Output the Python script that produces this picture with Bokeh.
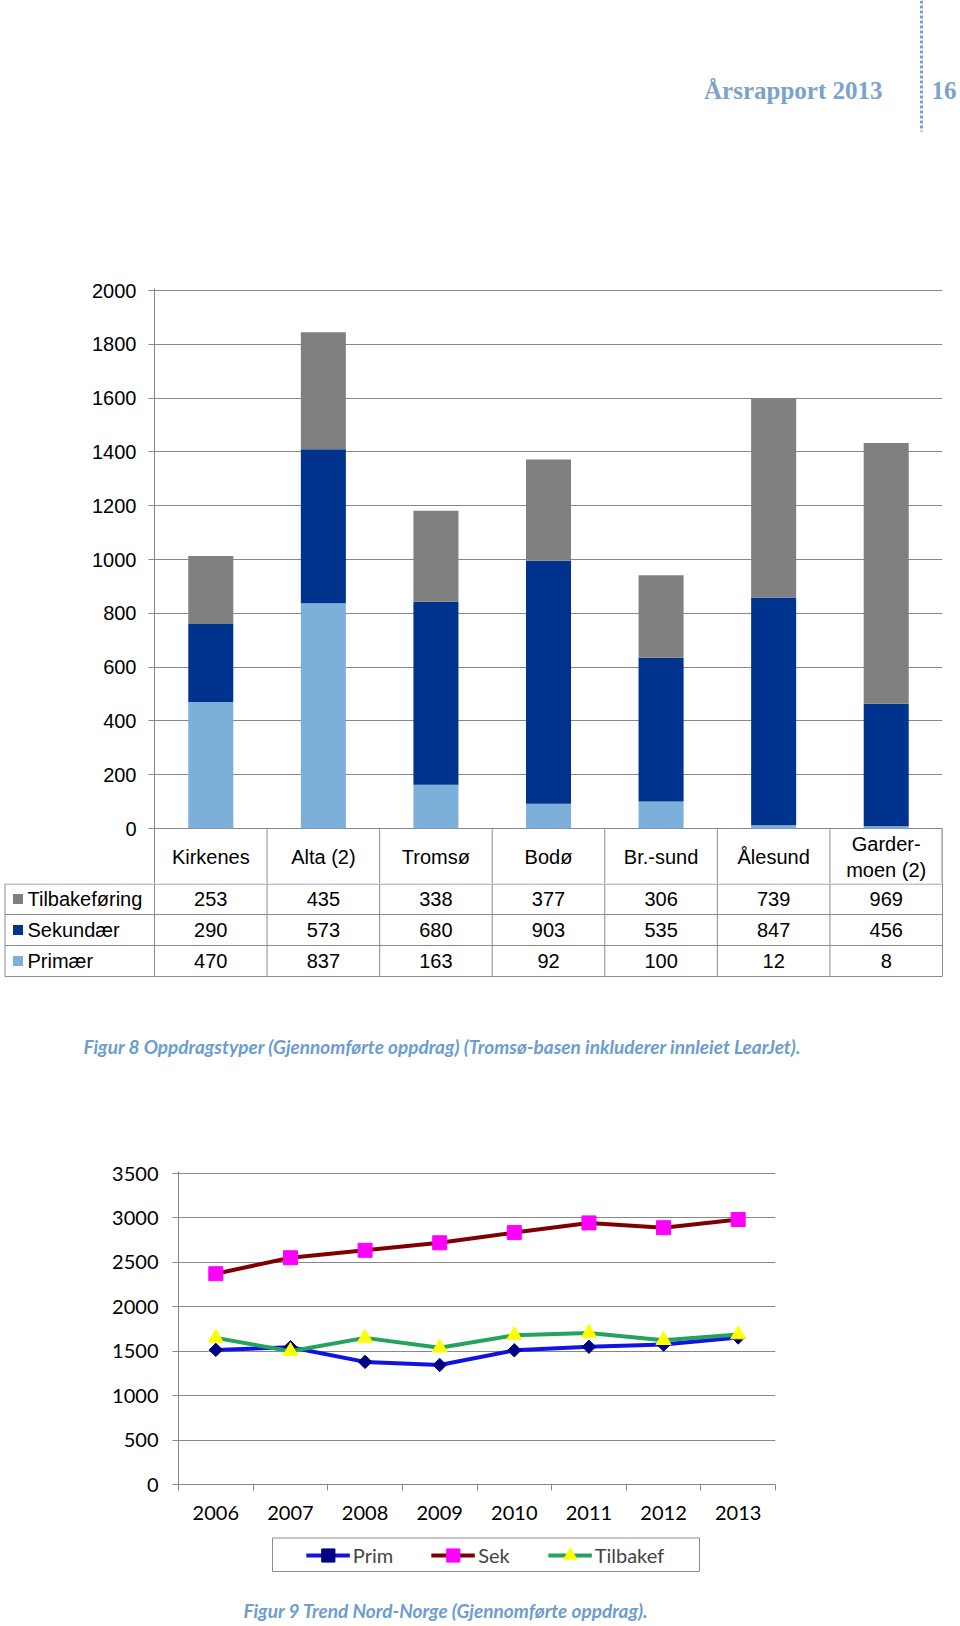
from bokeh.plotting import figure
from bokeh.models import Range1d, FactorRange, FixedTicker, Legend, LegendItem, ColumnDataSource
from bokeh.core.properties import value
from bokeh.embed import file_html
from bokeh.resources import INLINE

# ------------------------------------------------------------------ data
bases = ["Kirkenes", "Alta (2)", "Tromsø", "Bodø", "Br.-sund", "Ålesund", "Garder-\nmoen (2)"]
series_names = ["Tilbakeføring", "Sekundær", "Primær"]
tilbakeforing = [253, 435, 338, 377, 306, 739, 969]
sekundaer = [290, 573, 680, 903, 535, 847, 456]
primaer = [470, 837, 163, 92, 100, 12, 8]
bar_y_ticks = [0, 200, 400, 600, 800, 1000, 1200, 1400, 1600, 1800, 2000]

years = [2006, 2007, 2008, 2009, 2010, 2011, 2012, 2013]
prim = [1515, 1545, 1380, 1345, 1510, 1550, 1575, 1655]
sek = [2372, 2552, 2636, 2720, 2835, 2944, 2890, 2982]
tilbakef = [1650, 1500, 1650, 1540, 1680, 1706, 1624, 1688]
line_y_ticks = [0, 500, 1000, 1500, 2000, 2500, 3000, 3500]
line_names = ["Prim", "Sek", "Tilbakef"]

header_text = "Årsrapport 2013"
page_no = "16"
caption1 = "Figur 8 Oppdragstyper (Gjennomførte oppdrag) (Tromsø-basen inkluderer innleiet LearJet)."
caption2 = "Figur 9 Trend Nord-Norge (Gjennomførte oppdrag)."

# ------------------------------------------------------------------ style
W = 960
GRID = "#878787"
TAB = "#8c8c8c"
HEAD_C = "#7aa3cb"
CAP_C = "#6d9dcc"
C_TILB = "#808080"
C_SEK = "#00338d"
C_PRIM = "#7cb0da"
ARIAL = value("Liberation Sans")
CAL = value("Lato")
line_styles = [
    dict(line_color="#1212e6", marker="square", angle=0.785398, size=9.5, fill="#000080"),
    dict(line_color="#7f0000", marker="square", angle=0.0, size=14, fill="#ff00ff"),
    dict(line_color="#24a35c", marker="triangle", angle=0.0, size=15, fill="#ffff00"),
]


def blank(y_top, y_bottom, x_left=0, border_left=0):
    p = figure(width=W, height=y_bottom - y_top, x_range=Range1d(x_left, W), y_range=Range1d(y_bottom, y_top),
               toolbar_location=None, output_backend="svg", min_border=0, min_border_left=border_left,
               x_axis_location=None, y_axis_location=None)
    p.grid.grid_line_color = None
    p.outline_line_color = None
    p.background_fill_color = "white"
    p.border_fill_color = "white"
    return p


def draw_series(p, xs, ys, st):
    lr = p.line(xs, ys, line_color=st["line_color"], line_width=4)
    sr = p.scatter(xs, ys, marker=st["marker"], angle=st["angle"], size=st["size"],
                   fill_color=st["fill"], line_color=st["fill"])
    return [lr, sr]


# ------------------------------------------------------------------ header
head = blank(0, 270)
head.text(x=[882], y=[90], text=[header_text], text_font=value("Liberation Serif"), text_font_style="bold",
          text_font_size="25px", text_color=HEAD_C, text_align="right", text_baseline="alphabetic")
head.text(x=[956], y=[90], text=[page_no], text_font=value("Liberation Serif"), text_font_style="bold",
          text_font_size="25px", text_color=HEAD_C, text_align="right", text_baseline="alphabetic")
head.segment(x0=[921], y0=[0], x1=[921], y1=[131], line_color=HEAD_C, line_width=3, line_dash="3 2")

# ------------------------------------------------------------------ bar chart (+ table header row)
B_TOP, FR_TOP, Y2000, Y0, FR_BOT = 270, 288, 290, 828, 883
X0, X1 = 154, 942
ppu = (Y0 - Y2000) / bar_y_ticks[-1]
bar = figure(width=W, height=FR_BOT - B_TOP,
             x_range=FactorRange(*bases, range_padding=0),
             y_range=Range1d(-(FR_BOT - Y0) / ppu, bar_y_ticks[-1] + (Y2000 - FR_TOP) / ppu),
             toolbar_location=None, output_backend="svg",
             min_border_top=FR_TOP - B_TOP, min_border_bottom=0, min_border_left=X0, min_border_right=W - X1,
             x_axis_location=None)
bar.outline_line_color = None
bar.background_fill_color = "white"
bar.xgrid.grid_line_color = None
bar.ygrid.grid_line_color = GRID
bar.yaxis.ticker = FixedTicker(ticks=bar_y_ticks)
bar.yaxis.axis_line_color = GRID
bar.yaxis.major_tick_line_color = GRID
bar.yaxis.major_tick_out = 6
bar.yaxis.major_tick_in = 0
bar.yaxis.minor_tick_line_color = None
bar.yaxis.major_label_standoff = 12
bar.yaxis.major_label_text_font = "Liberation Sans"
bar.yaxis.major_label_text_font_size = "20px"
bar.yaxis.major_label_text_color = "black"

src = ColumnDataSource(dict(base=bases, prim=primaer, sek=sekundaer, tilb=tilbakeforing))
bar.vbar_stack(["prim", "sek", "tilb"], x="base", width=0.4, color=[C_PRIM, C_SEK, C_TILB],
               line_color=None, source=src)
# header-row cell borders and category names (below the zero line)
ystart = bar.y_range.start
bounds = list(range(1, len(bases) + 1))
bar.segment(x0=bounds, y0=[0] * len(bounds), x1=bounds, y1=[ystart] * len(bounds),
            line_color=TAB, line_width=1)
bar.segment(x0=[len(bases)], y0=[0], x1=[len(bases)], y1=[ystart], line_color=TAB, line_width=2)
bar.text(x=bases, y=[-(856.5 - Y0) / ppu] * len(bases), text=bases, text_font=ARIAL, text_font_size="20px",
         text_align="center", text_baseline="middle", text_color="black", text_line_height=1.2)

# ------------------------------------------------------------------ table body
T_TOP, T_BOT = FR_BOT, 1150
tab = blank(T_TOP, T_BOT)
CW = (X1 - X0) / len(bases)
col_x = [X0 + i * CW for i in range(len(bases) + 1)]
col_c = [X0 + (i + 0.5) * CW for i in range(len(bases))]
row_lines = [T_TOP + 0.5, 914, 945, 976]
row_c = [898.5, 929.5, 960.5]
LEFT = 4.5
tab.segment(x0=[LEFT] * 4, y0=row_lines, x1=[X1] * 4, y1=row_lines, line_color=TAB, line_width=1)
tab.segment(x0=col_x, y0=[T_TOP] * len(col_x), x1=col_x, y1=[976] * len(col_x), line_color=TAB, line_width=1)
tab.segment(x0=[LEFT], y0=[T_TOP], x1=[LEFT], y1=[976], line_color=TAB, line_width=1)
rows = [tilbakeforing, sekundaer, primaer]
row_cols = [C_TILB, C_SEK, C_PRIM]
for r, (name, vals, col) in enumerate(zip(series_names, rows, row_cols)):
    tab.rect(x=[17.5], y=[row_c[r]], width=10, height=10, fill_color=col, line_color=None)
    tab.text(x=[27], y=[row_c[r]], text=[name], text_font=ARIAL, text_font_size="20px",
             text_align="left", text_baseline="middle", text_color="black")
    tab.text(x=col_c, y=[row_c[r]] * len(vals), text=[str(v) for v in vals], text_font=ARIAL,
             text_font_size="20px", text_align="center", text_baseline="middle", text_color="black")
tab.text(x=[83], y=[1046], text=[caption1], text_font=CAL, text_font_style="bold italic",
         text_font_size="19px", text_color=CAP_C, text_align="left", text_baseline="middle")

# ------------------------------------------------------------------ line chart
L_TOP, LT, L3500, L0, L_BOT = 1150, 1171, 1173, 1484, 1535
LX0, LX1 = 178, 775
lppu = (L0 - L3500) / line_y_ticks[-1]
line = figure(width=W, height=L_BOT - L_TOP,
              x_range=Range1d(years[0] - 0.5, years[-1] + 0.5),
              y_range=Range1d(0, line_y_ticks[-1] + (L3500 - LT) / lppu),
              toolbar_location=None, output_backend="svg",
              min_border_top=LT - L_TOP, min_border_bottom=L_BOT - L0,
              min_border_left=LX0, min_border_right=W - LX1)
line.outline_line_color = None
line.background_fill_color = "white"
line.xgrid.grid_line_color = None
line.ygrid.grid_line_color = GRID
line.yaxis.ticker = FixedTicker(ticks=line_y_ticks)
line.xaxis.ticker = FixedTicker(ticks=years, minor_ticks=[y - 0.5 for y in years] + [years[-1] + 0.5])
for ax in (line.xaxis, line.yaxis):
    ax.axis_line_color = GRID
    ax.major_label_text_font = "Lato"
    ax.major_label_text_font_size = "20px"
    ax.major_label_text_color = "black"
line.yaxis.major_tick_line_color = GRID
line.yaxis.major_tick_out = 6
line.yaxis.major_tick_in = 0
line.yaxis.minor_tick_line_color = None
line.yaxis.major_label_standoff = 14
line.xaxis.major_tick_line_color = None
line.xaxis.minor_tick_line_color = GRID
line.xaxis.minor_tick_out = 6
line.xaxis.minor_tick_in = 0
line.xaxis.major_label_standoff = 15

for ys, st in zip([prim, sek, tilbakef], line_styles):
    draw_series(line, years, ys, st)

# ------------------------------------------------------------------ legend strip (same styles as the series)
G_TOP, G_BOT = L_BOT, 1574
leg = blank(G_TOP, G_BOT, x_left=10, border_left=10)
leg.quad(left=[272], right=[699], top=[1537.5], bottom=[1571], fill_color="white", line_color=TAB, line_width=1)
items = []
for name, st in zip(line_names, line_styles):
    # proxy glyphs parked outside the visible strip; only their legend swatches show
    items.append(LegendItem(label=name, renderers=draw_series(leg, [-500, -400], [-500, -500], st)))
legend = Legend(items=items, orientation="horizontal", location="center",
                glyph_width=44, glyph_height=33, label_standoff=3, spacing=38, padding=0, margin=0,
                border_line_color=None, background_fill_alpha=0.0,
                label_text_font="Lato", label_text_font_size="20px", label_height=20)
leg.add_layout(legend)

# ------------------------------------------------------------------ caption 2
cap2 = blank(G_BOT, 1626)
cap2.text(x=[243], y=[1610], text=[caption2], text_font=CAL, text_font_style="bold italic",
          text_font_size="19px", text_color=CAP_C, text_align="left", text_baseline="middle")

open("out.html", "w").write(file_html([head, bar, tab, line, leg, cap2], INLINE))
